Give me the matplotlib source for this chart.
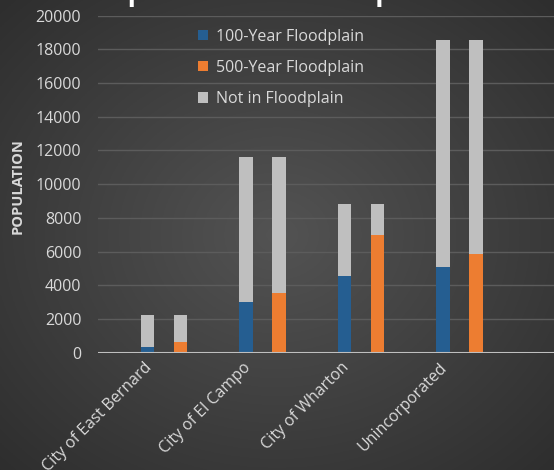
import matplotlib.pyplot as plt
import matplotlib.transforms as mtransforms
import numpy as np

plt.rcParams['font.family'] = ['Open Sans', 'DejaVu Sans']

categories = ['City of East Bernard', 'City of El Campo', 'City of Wharton', 'Unincorporated']
total_pop = [2240, 11600, 8800, 18550]
pop_100yr = [350, 3000, 4530, 5070]
pop_500yr = [620, 3550, 7000, 5850]

blue = '#255e91'
orange = '#ed7d31'
grey = '#bfbfbf'
text_col = '#d9d9d9'

fig = plt.figure(figsize=(5.54, 4.70), dpi=100)

# radial gradient background, lighter in the middle
bg = fig.add_axes([0, 0, 1, 1], zorder=-10)
yy, xx = np.mgrid[-1:1:300j, -1:1:300j]
r = np.clip(np.sqrt(xx**2 + yy**2) / np.sqrt(2), 0, 1)
v = (0x53 - (0x53 - 0x2e) * r) / 255.0
bg.imshow(np.dstack([v, v, v]), aspect='auto', extent=[0, 1, 0, 1])
bg.axis('off')

ax = fig.add_axes([98/554, 1 - 352.7/470, 1 - 98/554, 337/470])
ax.set_facecolor('none')

x = np.arange(len(categories))
w = 0.137
off = 0.168
not_100 = [t - a for t, a in zip(total_pop, pop_100yr)]
not_500 = [t - a for t, a in zip(total_pop, pop_500yr)]

ax.bar(x - off, pop_100yr, w, color=blue, label='100-Year Floodplain', zorder=3)
ax.bar(x - off, not_100, w, bottom=pop_100yr, color=grey, zorder=3)
ax.bar(x + off, pop_500yr, w, color=orange, label='500-Year Floodplain', zorder=3)
ax.bar(x + off, not_500, w, bottom=pop_500yr, color=grey, label='Not in Floodplain', zorder=3)

ax.set_xlim(-0.67, 3.96)
ax.set_ylim(0, 20000)
ax.set_yticks(np.arange(0, 20001, 2000))
ax.yaxis.grid(True, color='#5c5c5c', linewidth=1, zorder=0)
ax.axhline(0, color='#bfbfbf', linewidth=1.5, zorder=4)
for s in ax.spines.values():
    s.set_visible(False)
ax.tick_params(length=0, colors=text_col, labelsize=11.5)
ax.tick_params(axis='y', pad=12)

ax.set_xticks(x)
ax.set_xticklabels(categories, rotation=45, ha='right', va='top',
                   rotation_mode='anchor', fontsize=11.5, color=text_col)
shift = mtransforms.ScaledTranslation(-20 / 100, -2 / 100, fig.dpi_scale_trans)
for lbl in ax.get_xticklabels():
    lbl.set_transform(lbl.get_transform() + shift)

fig.text(18/554, 1 - 186/470, 'POPULATION', rotation=90, ha='center', va='center',
         fontsize=10.5, fontweight='bold', color=text_col)

# title is cut off by the top edge in the original
fig.text(269/554, 1.0, 'Populations in Floodplain', ha='center', va='baseline',
         fontsize=20, fontweight='bold', color='white')

leg = ax.legend(loc='upper left', bbox_to_anchor=(0.188, 1.004), frameon=False,
                fontsize=11.5, labelcolor=text_col, handlelength=0.6, handleheight=0.6,
                handletextpad=0.5, labelspacing=0.95)

fig.savefig('out.png', dpi=100)
